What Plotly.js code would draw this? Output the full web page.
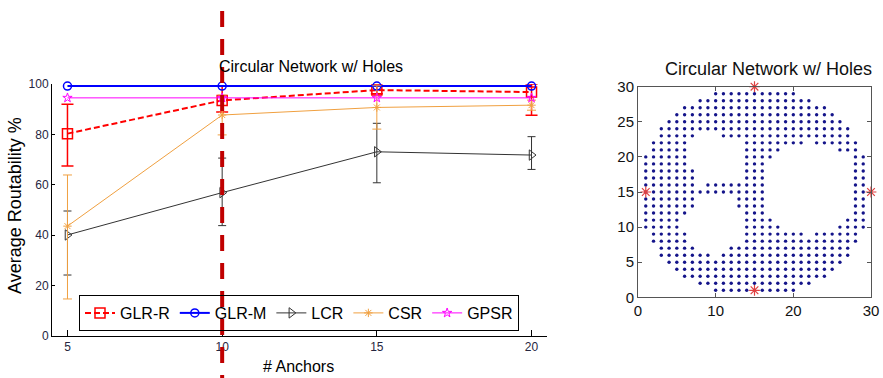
<!DOCTYPE html>
<html><head><meta charset="utf-8">
<script src="https://cdn.plot.ly/plotly-3.0.1.min.js"></script>
<style>html,body{margin:0;padding:0;background:#fff}#chart{width:883px;height:378px}</style>
</head><body><div id="chart"></div>
<script>
// ---- left chart data ----
const anchors = [5, 10, 15, 20];
const glrR = [80.3, 93.5, 97.6, 96.8];
const glrRPlus = [11.7, 5.8, 1.5, 3.2];
const glrRMinus = [12.8, 4.6, 1.5, 9.2];
const glrM = [99.2, 99.2, 99.2, 99.2];
const lcr = [40.1, 56.9, 73.1, 71.8];
const lcrPlus = [9.5, 13.7, 11.3, 7.3];
const lcrMinus = [15.9, 13.1, 12.3, 5.7];
const csr = [43.6, 87.7, 90.7, 91.6];
const csrPlus = [20.3, 7.9, 8.6, 2];
const csrMinus = [28.9, 7.9, 8.6, 2];
const gpsr = [94.5, 94.5, 94.5, 94.5];
const yTicks = [0, 20, 40, 60, 80, 100];

// ---- right chart data (node rows: y and runs of x) ----
const nodeRowY = [29,28,27,26,25,24,23,22,21,20,19,18,17,16,15,14,13,12,11,10,9,8,7,6,5,4,3,2,1];
const nodeRowRuns = [
  [[10,20]],
  [[8,22]],
  [[6,24]],
  [[5,25]],
  [[4,26]],
  [[3,27]],
  [[3,7],[11,27]],
  [[2,6],[14,21],[23,28]],
  [[2,6],[14,18],[26,28]],
  [[1,6],[14,17],[28,29]],
  [[1,6],[14,16],[28,29]],
  [[1,7],[14,16],[28,29]],
  [[1,7],[14,16],[28,29]],
  [[1,7],[9,16],[28,29]],
  [[1,16],[28,29]],
  [[1,7],[13,16],[28,29]],
  [[1,7],[13,16],[28,29]],
  [[1,6],[14,16],[28,29]],
  [[1,5],[14,17],[27,29]],
  [[1,5],[14,18],[26,29]],
  [[2,6],[14,21],[23,28]],
  [[2,6],[14,28]],
  [[3,7],[12,27]],
  [[3,9],[11,27]],
  [[4,26]],
  [[5,25]],
  [[6,24]],
  [[8,22]],
  [[10,20]]
];
const anchorX = [1, 15, 30, 15];
const anchorY = [15, 30, 15, 1];
const netTicksX = [0, 10, 20, 30];
const netTicksY = [0, 5, 10, 15, 20, 25, 30];

const nodeX = [], nodeY = [];
nodeRowY.forEach((y, i) => nodeRowRuns[i].forEach(([a, b]) => {
  for (let x = a; x <= b; x++) { nodeX.push(x); nodeY.push(y); }
}));

const F = 'Arial, "Liberation Sans", sans-serif';

function eb(plus, minus, color, width, thick) {
  return {type: 'data', symmetric: false, array: plus, arrayminus: minus,
          color: color, width: width, thickness: thick};
}

const traces = [
  {x: anchors, y: glrR, name: 'GLR-R', mode: 'lines+markers', cliponaxis: false,
   line: {color: '#ff0000', width: 2, dash: '6px,3px'},
   marker: {symbol: 'square-open', size: 10, color: '#ff0000', line: {width: 1.5}},
   error_y: eb(glrRPlus, glrRMinus, '#ff0000', 6, 1.5)},
  {x: anchors, y: glrM, name: 'GLR-M', mode: 'lines+markers', cliponaxis: false,
   line: {color: '#0000ff', width: 2},
   marker: {symbol: 'circle-open', size: 8, color: '#0000ff', line: {width: 1.5}}},
  {x: anchors, y: lcr, name: 'LCR', mode: 'lines+markers', cliponaxis: false,
   line: {color: '#333333', width: 1},
   marker: {symbol: 'triangle-right-open', size: 9, color: '#333333', line: {width: 1}},
   error_y: eb(lcrPlus, lcrMinus, '#333333', 4, 1)},
  {x: anchors, y: csr, name: 'CSR', mode: 'lines+markers', cliponaxis: false,
   line: {color: '#f0a040', width: 1},
   marker: {symbol: 'asterisk-open', size: 7, color: '#f0a040', line: {width: 1, color: '#f0a040'}},
   error_y: eb(csrPlus, csrMinus, '#f0a040', 4.5, 1)},
  {x: anchors, y: gpsr, name: 'GPSR', mode: 'lines+markers', cliponaxis: false,
   line: {color: '#ff00ff', width: 1},
   marker: {symbol: 'star-open', size: 7, color: '#ff00ff', line: {width: 1}}},
  {x: nodeX, y: nodeY, xaxis: 'x2', yaxis: 'y2', mode: 'markers', showlegend: false,
   marker: {symbol: 'circle', size: 3.4, color: '#14148a'}},
  {x: anchorX, y: anchorY, xaxis: 'x2', yaxis: 'y2', mode: 'markers', showlegend: false,
   cliponaxis: false,
   marker: {symbol: 'asterisk-open', size: 9, color: '#e04040', line: {width: 1.2, color: '#e04040'}}}
];

const W = 883, H = 378;
const layout = {
  width: W, height: H, margin: {l: 0, r: 0, t: 0, b: 0},
  paper_bgcolor: '#fff', plot_bgcolor: 'rgba(0,0,0,0)',
  showlegend: true,
  font: {family: F, color: '#000'},
  xaxis: {domain: [52 / W, 547 / W], range: [4.5, 20.5], tickvals: anchors,
          ticks: 'inside', ticklen: 6, tickcolor: '#000', showline: true, linecolor: '#000',
          linewidth: 1, showgrid: false, zeroline: false,
          tickfont: {family: F, size: 12, color: '#262640'}},
  yaxis: {domain: [(H - 336) / H, (H - 84) / H], range: [0, 100], tickvals: yTicks,
          ticks: 'inside', ticklen: 3, tickcolor: '#000', showline: true, linecolor: '#000',
          linewidth: 1, showgrid: false, zeroline: false,
          tickfont: {family: F, size: 12, color: '#262640'}},
  xaxis2: {domain: [638 / W, 871 / W], range: [0, 30], tickvals: netTicksX, anchor: 'y2',
           ticks: 'inside', ticklen: 4, tickcolor: '#555', showline: true, mirror: 'ticks',
           linecolor: '#555', linewidth: 1, showgrid: false, zeroline: false,
           tickfont: {family: F, size: 15, color: '#111'}},
  yaxis2: {domain: [(H - 297.3) / H, (H - 86.7) / H], range: [0, 30], tickvals: netTicksY, anchor: 'x2',
           ticks: 'inside', ticklen: 4, tickcolor: '#555', showline: true, mirror: 'ticks',
           linecolor: '#555', linewidth: 1, showgrid: false, zeroline: false,
           tickfont: {family: F, size: 15, color: '#111'}},
  legend: {orientation: 'h', x: 79 / W, y: (H - 295) / H, xanchor: 'left', yanchor: 'top',
           font: {family: F, size: 16, color: '#000'}, bordercolor: '#000', borderwidth: 1,
           bgcolor: 'rgba(0,0,0,0)'},
  annotations: [
    {text: 'Circular Network w/ Holes', xref: 'paper', yref: 'paper', x: 310.5 / W, y: (H - 66) / H,
     xanchor: 'center', yanchor: 'middle', showarrow: false, font: {family: F, size: 16, color: '#000'}},
    {text: 'Circular Network w/ Holes', xref: 'paper', yref: 'paper', x: 768 / W, y: (H - 69.5) / H,
     xanchor: 'center', yanchor: 'middle', showarrow: false, font: {family: F, size: 18, color: '#111'}},
    {text: 'Average Routability %', xref: 'paper', yref: 'paper', x: 15 / W, y: (H - 206) / H,
     xanchor: 'center', yanchor: 'middle', textangle: -90, showarrow: false,
     font: {family: F, size: 18, color: '#000'}},
    {text: '# Anchors', xref: 'paper', yref: 'paper', x: 298 / W, y: (H - 366) / H,
     xanchor: 'center', yanchor: 'middle', showarrow: false, font: {family: F, size: 16, color: '#000'}}
  ],
  shapes: [
    {type: 'line', xref: 'x', yref: 'paper', x0: 10, x1: 10, y0: 1 + 17 / H, y1: -0.05,
     layer: 'above', line: {color: '#c00000', width: 4, dash: '16px,12px'}}
  ]
};

Plotly.newPlot('chart', traces, layout, {displayModeBar: false, staticPlot: true});
</script></body></html>
